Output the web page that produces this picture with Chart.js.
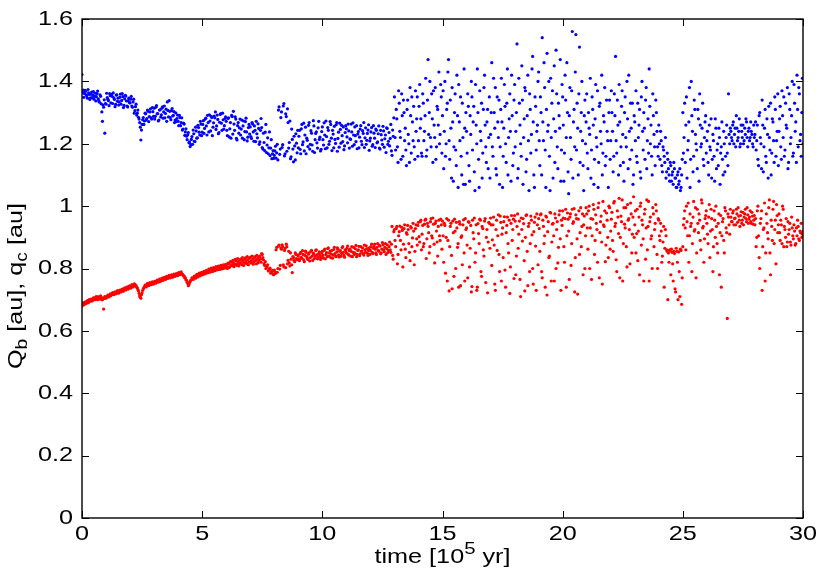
<!DOCTYPE html>
<html>
<head>
<meta charset="utf-8">
<script src="https://cdn.jsdelivr.net/npm/chart.js@4.4.1/dist/chart.umd.min.js"></script>
<style>
  html, body { margin: 0; padding: 0; background: #fff; }
  #wrap { width: 830px; height: 581px; }
</style>
</head>
<body>
<div id="wrap"><canvas id="chart" width="830" height="581"></canvas></div>
<script>
// Each row holds the outputs of one 10^5 yr interval (row r covers r .. r+1).
// "A" rows sit on the whole output steps, "B" rows on the half steps in between.

// Q_b [au]
const qbRowsA = [
  [1.422, 1.372, 1.361, 1.368, 1.353, 1.374, 1.358, 1.347, 1.366, 1.356, 1.343, 1.362, 1.351, 1.369, 1.338, 1.357, 1.328, 1.272, 1.317, 1.234],
  [1.327, 1.348, 1.338, 1.361, 1.331, 1.352, 1.363, 1.342, 1.326, 1.357, 1.346, 1.334, 1.359, 1.339, 1.351, 1.323, 1.355, 1.337, 1.318, 1.346],
  [1.331, 1.352, 1.317, 1.343, 1.306, 1.327, 1.298, 1.285, 1.268, 1.212, 1.262, 1.284, 1.273, 1.296, 1.281, 1.304, 1.287, 1.312, 1.279, 1.303],
  [1.314, 1.288, 1.322, 1.297, 1.276, 1.309, 1.293, 1.318, 1.302, 1.283, 1.311, 1.334, 1.286, 1.304, 1.277, 1.313, 1.291, 1.268, 1.299, 1.281],
  [1.272, 1.291, 1.258, 1.283, 1.247, 1.263, 1.238, 1.224, 1.229, 1.203, 1.191, 1.214, 1.198, 1.232, 1.207, 1.241, 1.219, 1.252, 1.228, 1.263],
  [1.237, 1.274, 1.249, 1.282, 1.228, 1.268, 1.293, 1.241, 1.284, 1.253, 1.289, 1.302, 1.257, 1.278, 1.236, 1.294, 1.266, 1.298, 1.247, 1.281],
  [1.272, 1.226, 1.283, 1.248, 1.218, 1.287, 1.304, 1.243, 1.279, 1.212, 1.268, 1.251, 1.228, 1.276, 1.257, 1.213, 1.271, 1.238, 1.221, 1.262],
  [1.254, 1.217, 1.263, 1.208, 1.243, 1.272, 1.219, 1.249, 1.206, 1.281, 1.188, 1.234, 1.178, 1.262, 1.196, 1.168, 1.238, 1.186, 1.152, 1.178],
  [1.163, 1.192, 1.171, 1.148, 1.318, 1.183, 1.302, 1.197, 1.329, 1.168, 1.287, 1.312, 1.186, 1.273, 1.158, 1.214, 1.142, 1.193, 1.232, 1.171],
  [1.187, 1.243, 1.168, 1.262, 1.206, 1.177, 1.253, 1.218, 1.191, 1.268, 1.198, 1.234, 1.176, 1.257, 1.213, 1.238, 1.186, 1.272, 1.221, 1.182],
  [1.254, 1.196, 1.228, 1.273, 1.187, 1.243, 1.208, 1.262, 1.178, 1.231, 1.256, 1.201, 1.268, 1.217, 1.189, 1.246, 1.259, 1.207, 1.181, 1.236],
  [1.248, 1.203, 1.241, 1.216, 1.263, 1.192, 1.228, 1.254, 1.207, 1.184, 1.239, 1.221, 1.258, 1.197, 1.233, 1.188, 1.251, 1.211, 1.244, 1.179],
  [1.218, 1.252, 1.197, 1.234, 1.188, 1.243, 1.206, 1.257, 1.183, 1.229, 1.198, 1.241, 1.216, 1.172, 1.249, 1.208, 1.193, 1.262, 1.163, 1.224],
  [1.35, 1.18, 1.28, 1.14, 1.33, 1.22, 1.36, 1.16, 1.30, 1.25, 1.13, 1.34, 1.20, 1.38, 1.17, 1.27, 1.32, 1.15, 1.24, 1.35],
  [1.21, 1.39, 1.28, 1.16, 1.33, 1.24, 1.41, 1.18, 1.47, 1.30, 1.22, 1.36, 1.14, 1.26, 1.38, 1.19, 1.31, 1.43, 1.23, 1.35],
  [1.29, 1.12, 1.40, 1.20, 1.33, 1.47, 1.15, 1.25, 1.38, 1.08, 1.30, 1.18, 1.42, 1.06, 1.27, 1.35, 1.10, 1.22, 1.44, 1.07],
  [1.24, 1.36, 1.13, 1.29, 1.40, 1.18, 1.32, 1.05, 1.26, 1.44, 1.15, 1.37, 1.21, 1.09, 1.31, 1.42, 1.19, 1.27, 1.12, 1.35],
  [1.23, 1.46, 1.16, 1.30, 1.38, 1.10, 1.27, 1.34, 1.19, 1.41, 1.06, 1.25, 1.32, 1.14, 1.44, 1.22, 1.36, 1.08, 1.29, 1.17],
  [1.39, 1.24, 1.52, 1.12, 1.33, 1.20, 1.45, 1.07, 1.28, 1.37, 1.15, 1.42, 1.05, 1.31, 1.23, 1.48, 1.10, 1.35, 1.18, 1.26],
  [1.43, 1.13, 1.30, 1.54, 1.21, 1.38, 1.06, 1.49, 1.26, 1.16, 1.41, 1.33, 1.09, 1.45, 1.24, 1.36, 1.12, 1.29, 1.47, 1.18],
  [1.35, 1.08, 1.42, 1.22, 1.30, 1.04, 1.38, 1.15, 1.56, 1.27, 1.19, 1.55, 1.33, 1.10, 1.51, 1.24, 1.40, 1.13, 1.29, 1.20],
  [1.36, 1.12, 1.25, 1.41, 1.18, 1.31, 1.07, 1.28, 1.22, 1.37, 1.14, 1.33, 1.20, 1.10, 1.29, 1.38, 1.16, 1.24, 1.06, 1.34],
  [1.21, 1.30, 1.11, 1.36, 1.48, 1.17, 1.26, 1.39, 1.13, 1.32, 1.23, 1.08, 1.35, 1.19, 1.28, 1.42, 1.15, 1.25, 1.33, 1.10],
  [1.27, 1.37, 1.14, 1.22, 1.31, 1.09, 1.40, 1.18, 1.25, 1.34, 1.12, 1.28, 1.44, 1.20, 1.16, 1.36, 1.23, 1.13, 1.30, 1.19],
  [1.26, 1.15, 1.21, 1.11, 1.18, 1.14, 1.09, 1.17, 1.12, 1.08, 1.13, 1.10, 1.07, 1.12, 1.09, 1.06, 1.11, 1.08, 1.05, 1.10],
  [1.30, 1.22, 1.14, 1.35, 1.18, 1.27, 1.06, 1.40, 1.24, 1.16, 1.31, 1.20, 1.12, 1.28, 1.36, 1.19, 1.25, 1.15, 1.22, 1.29],
  [1.21, 1.14, 1.26, 1.18, 1.09, 1.23, 1.16, 1.28, 1.12, 1.20, 1.25, 1.07, 1.19, 1.15, 1.24, 1.11, 1.22, 1.17, 1.36, 1.20],
  [1.24, 1.21, 1.27, 1.23, 1.19, 1.25, 1.22, 1.28, 1.20, 1.24, 1.26, 1.21, 1.23, 1.27, 1.19, 1.25, 1.22, 1.24, 1.20, 1.26],
  [1.23, 1.18, 1.26, 1.13, 1.30, 1.20, 1.34, 1.11, 1.25, 1.16, 1.28, 1.09, 1.22, 1.33, 1.17, 1.27, 1.14, 1.31, 1.21, 1.36],
  [1.24, 1.32, 1.15, 1.29, 1.35, 1.18, 1.26, 1.38, 1.14, 1.31, 1.22, 1.40, 1.17, 1.33, 1.27, 1.42, 1.19, 1.36, 1.23, 1.30],
  [1.20]
];
const qbRowsB = [
  [1.364, 1.349, 1.371, 1.357, 1.346, 1.363, 1.342, 1.359, 1.348, 1.367, 1.352, 1.337, 1.361, 1.344, 1.333, 1.352, 1.302, 1.324, 1.341, 1.329],
  [1.362, 1.343, 1.322, 1.354, 1.358, 1.329, 1.347, 1.319, 1.356, 1.336, 1.324, 1.349, 1.327, 1.361, 1.316, 1.344, 1.353, 1.321, 1.338, 1.332],
  [1.343, 1.321, 1.334, 1.298, 1.319, 1.292, 1.308, 1.279, 1.253, 1.244, 1.277, 1.262, 1.298, 1.276, 1.308, 1.271, 1.302, 1.283, 1.316, 1.288],
  [1.279, 1.317, 1.296, 1.273, 1.308, 1.286, 1.314, 1.282, 1.321, 1.297, 1.272, 1.307, 1.338, 1.284, 1.306, 1.289, 1.303, 1.276, 1.271, 1.292],
  [1.258, 1.284, 1.268, 1.244, 1.266, 1.227, 1.248, 1.213, 1.236, 1.206, 1.197, 1.223, 1.244, 1.208, 1.253, 1.218, 1.259, 1.237, 1.272, 1.226],
  [1.262, 1.233, 1.279, 1.257, 1.291, 1.238, 1.273, 1.288, 1.226, 1.267, 1.283, 1.246, 1.292, 1.232, 1.269, 1.297, 1.243, 1.277, 1.258, 1.286],
  [1.243, 1.281, 1.222, 1.268, 1.291, 1.231, 1.263, 1.286, 1.217, 1.258, 1.234, 1.279, 1.247, 1.218, 1.273, 1.239, 1.282, 1.209, 1.252, 1.231],
  [1.223, 1.268, 1.238, 1.257, 1.207, 1.232, 1.264, 1.198, 1.243, 1.252, 1.183, 1.204, 1.237, 1.172, 1.219, 1.187, 1.162, 1.213, 1.168, 1.153],
  [1.177, 1.154, 1.198, 1.308, 1.166, 1.284, 1.188, 1.321, 1.161, 1.296, 1.176, 1.268, 1.204, 1.152, 1.247, 1.183, 1.224, 1.148, 1.202, 1.243],
  [1.224, 1.182, 1.248, 1.197, 1.266, 1.228, 1.168, 1.211, 1.259, 1.183, 1.242, 1.196, 1.274, 1.172, 1.233, 1.203, 1.251, 1.214, 1.177, 1.239],
  [1.213, 1.267, 1.184, 1.223, 1.252, 1.198, 1.271, 1.218, 1.243, 1.187, 1.214, 1.261, 1.176, 1.237, 1.266, 1.202, 1.226, 1.254, 1.193, 1.258],
  [1.222, 1.263, 1.186, 1.214, 1.238, 1.267, 1.197, 1.226, 1.258, 1.231, 1.187, 1.247, 1.208, 1.242, 1.268, 1.219, 1.198, 1.233, 1.261, 1.209],
  [1.238, 1.192, 1.258, 1.218, 1.247, 1.203, 1.232, 1.186, 1.243, 1.212, 1.256, 1.189, 1.228, 1.251, 1.198, 1.236, 1.217, 1.177, 1.244, 1.283],
  [1.22, 1.31, 1.19, 1.37, 1.24, 1.15, 1.29, 1.34, 1.21, 1.18, 1.31, 1.23, 1.14, 1.29, 1.35, 1.21, 1.19, 1.37, 1.28, 1.16],
  [1.32, 1.25, 1.17, 1.36, 1.21, 1.29, 1.16, 1.34, 1.23, 1.40, 1.19, 1.28, 1.37, 1.22, 1.15, 1.32, 1.26, 1.20, 1.39, 1.17],
  [1.37, 1.24, 1.16, 1.31, 1.43, 1.21, 1.34, 1.09, 1.27, 1.19, 1.36, 1.13, 1.29, 1.39, 1.21, 1.16, 1.33, 1.07, 1.25, 1.30],
  [1.17, 1.32, 1.08, 1.23, 1.35, 1.27, 1.11, 1.39, 1.20, 1.30, 1.06, 1.24, 1.33, 1.17, 1.38, 1.26, 1.14, 1.31, 1.22, 1.09],
  [1.30, 1.19, 1.41, 1.25, 1.12, 1.35, 1.22, 1.07, 1.31, 1.27, 1.16, 1.39, 1.20, 1.33, 1.10, 1.28, 1.24, 1.42, 1.13, 1.34],
  [1.19, 1.30, 1.09, 1.41, 1.26, 1.16, 1.34, 1.22, 1.38, 1.11, 1.29, 1.21, 1.36, 1.17, 1.44, 1.27, 1.06, 1.32, 1.24, 1.40],
  [1.21, 1.35, 1.10, 1.27, 1.46, 1.18, 1.31, 1.24, 1.40, 1.05, 1.22, 1.37, 1.28, 1.14, 1.50, 1.19, 1.33, 1.25, 1.08, 1.39],
  [1.26, 1.17, 1.34, 1.46, 1.11, 1.29, 1.22, 1.37, 1.09, 1.31, 1.43, 1.18, 1.25, 1.36, 1.14, 1.30, 1.21, 1.05, 1.34, 1.27],
  [1.17, 1.30, 1.23, 1.09, 1.35, 1.26, 1.15, 1.39, 1.19, 1.06, 1.32, 1.24, 1.42, 1.17, 1.27, 1.13, 1.34, 1.21, 1.30, 1.15],
  [1.37, 1.24, 1.16, 1.29, 1.21, 1.34, 1.10, 1.27, 1.19, 1.37, 1.14, 1.30, 1.22, 1.40, 1.12, 1.24, 1.33, 1.18, 1.07, 1.29],
  [1.21, 1.16, 1.33, 1.26, 1.11, 1.35, 1.24, 1.30, 1.15, 1.38, 1.21, 1.17, 1.32, 1.26, 1.10, 1.29, 1.19, 1.34, 1.24, 1.16],
  [1.20, 1.24, 1.13, 1.19, 1.16, 1.22, 1.11, 1.15, 1.10, 1.14, 1.08, 1.11, 1.14, 1.09, 1.06, 1.10, 1.07, 1.12, 1.06, 1.15],
  [1.17, 1.33, 1.26, 1.09, 1.21, 1.38, 1.15, 1.29, 1.11, 1.34, 1.23, 1.18, 1.31, 1.08, 1.26, 1.20, 1.33, 1.13, 1.27, 1.17],
  [1.24, 1.10, 1.19, 1.28, 1.15, 1.21, 1.08, 1.25, 1.18, 1.13, 1.22, 1.17, 1.27, 1.10, 1.20, 1.16, 1.26, 1.13, 1.23, 1.25],
  [1.22, 1.26, 1.20, 1.25, 1.29, 1.21, 1.24, 1.19, 1.26, 1.22, 1.20, 1.25, 1.28, 1.22, 1.24, 1.21, 1.27, 1.23, 1.19, 1.22],
  [1.27, 1.21, 1.15, 1.29, 1.22, 1.12, 1.26, 1.19, 1.31, 1.14, 1.23, 1.32, 1.18, 1.10, 1.28, 1.21, 1.35, 1.16, 1.24, 1.13],
  [1.28, 1.19, 1.37, 1.22, 1.16, 1.33, 1.25, 1.12, 1.36, 1.20, 1.29, 1.16, 1.39, 1.24, 1.14, 1.31, 1.38, 1.21, 1.16, 1.41]
];

// q_c [au]
const qcRowsA = [
  [0.680, 0.690, 0.685, 0.690, 0.695, 0.690, 0.700, 0.695, 0.700, 0.700, 0.705, 0.700, 0.710, 0.700, 0.705, 0.710, 0.705, 0.700, 0.670, 0.710],
  [0.705, 0.710, 0.712, 0.715, 0.713, 0.717, 0.720, 0.718, 0.722, 0.725, 0.723, 0.727, 0.730, 0.728, 0.732, 0.735, 0.733, 0.737, 0.735, 0.739],
  [0.740, 0.743, 0.745, 0.747, 0.749, 0.745, 0.738, 0.728, 0.712, 0.705, 0.722, 0.735, 0.742, 0.745, 0.748, 0.747, 0.750, 0.752, 0.750, 0.754],
  [0.755, 0.758, 0.757, 0.760, 0.762, 0.761, 0.765, 0.763, 0.767, 0.770, 0.768, 0.772, 0.771, 0.775, 0.773, 0.777, 0.776, 0.779, 0.778, 0.781],
  [0.783, 0.785, 0.786, 0.784, 0.780, 0.776, 0.770, 0.762, 0.752, 0.748, 0.758, 0.764, 0.768, 0.772, 0.770, 0.775, 0.778, 0.776, 0.780, 0.783],
  [0.785, 0.782, 0.788, 0.786, 0.790, 0.787, 0.793, 0.790, 0.795, 0.792, 0.797, 0.794, 0.800, 0.796, 0.802, 0.798, 0.804, 0.800, 0.806, 0.803],
  [0.810, 0.800, 0.815, 0.806, 0.820, 0.809, 0.818, 0.812, 0.825, 0.810, 0.822, 0.815, 0.830, 0.812, 0.826, 0.818, 0.834, 0.815, 0.828, 0.820],
  [0.836, 0.818, 0.830, 0.822, 0.838, 0.815, 0.832, 0.825, 0.840, 0.820, 0.845, 0.828, 0.810, 0.800, 0.805, 0.792, 0.798, 0.785, 0.790, 0.782],
  [0.795, 0.784, 0.868, 0.800, 0.875, 0.810, 0.862, 0.870, 0.805, 0.865, 0.878, 0.815, 0.855, 0.808, 0.830, 0.787, 0.835, 0.822, 0.845, 0.828],
  [0.840, 0.825, 0.852, 0.832, 0.845, 0.822, 0.856, 0.838, 0.829, 0.850, 0.835, 0.858, 0.826, 0.846, 0.839, 0.860, 0.831, 0.848, 0.842, 0.835],
  [0.855, 0.833, 0.862, 0.845, 0.838, 0.866, 0.850, 0.835, 0.858, 0.843, 0.868, 0.840, 0.853, 0.862, 0.837, 0.857, 0.848, 0.870, 0.842, 0.860],
  [0.850, 0.872, 0.843, 0.862, 0.855, 0.838, 0.868, 0.850, 0.874, 0.845, 0.860, 0.841, 0.870, 0.856, 0.848, 0.875, 0.852, 0.864, 0.842, 0.866],
  [0.858, 0.878, 0.848, 0.870, 0.862, 0.845, 0.880, 0.855, 0.872, 0.850, 0.883, 0.860, 0.868, 0.845, 0.876, 0.858, 0.885, 0.852, 0.935, 0.830],
  [0.925, 0.870, 0.935, 0.845, 0.918, 0.890, 0.932, 0.805, 0.928, 0.862, 0.915, 0.938, 0.880, 0.825, 0.930, 0.898, 0.920, 0.855, 0.940, 0.875],
  [0.948, 0.885, 0.955, 0.910, 0.870, 0.942, 0.958, 0.895, 0.935, 0.850, 0.950, 0.905, 0.962, 0.878, 0.945, 0.920, 0.840, 0.955, 0.890, 0.940],
  [0.952, 0.820, 0.938, 0.900, 0.760, 0.955, 0.870, 0.945, 0.735, 0.915, 0.958, 0.800, 0.930, 0.880, 0.950, 0.745, 0.905, 0.940, 0.850, 0.960],
  [0.930, 0.770, 0.948, 0.865, 0.725, 0.955, 0.895, 0.820, 0.940, 0.740, 0.912, 0.958, 0.790, 0.935, 0.860, 0.952, 0.755, 0.925, 0.885, 0.945],
  [0.962, 0.810, 0.940, 0.875, 0.730, 0.955, 0.905, 0.845, 0.968, 0.760, 0.930, 0.950, 0.795, 0.915, 0.965, 0.850, 0.720, 0.945, 0.890, 0.958],
  [0.970, 0.780, 0.935, 0.865, 0.952, 0.710, 0.925, 0.960, 0.825, 0.900, 0.972, 0.745, 0.945, 0.880, 0.955, 0.800, 0.918, 0.965, 0.730, 0.940],
  [0.960, 0.855, 0.975, 0.770, 0.935, 0.905, 0.968, 0.715, 0.950, 0.840, 0.978, 0.885, 0.945, 0.760, 0.962, 0.925, 0.818, 0.972, 0.895, 0.955],
  [0.985, 0.870, 0.960, 0.740, 0.978, 0.920, 0.965, 0.810, 0.990, 0.950, 0.725, 0.972, 0.895, 0.958, 0.845, 0.995, 0.935, 0.780, 0.968, 0.905],
  [0.975, 0.862, 1.000, 0.930, 0.765, 0.958, 0.990, 0.890, 0.945, 0.820, 1.010, 0.915, 0.968, 0.750, 0.940, 0.985, 0.875, 0.955, 0.835, 0.995],
  [0.920, 0.980, 0.855, 1.015, 0.945, 0.790, 0.965, 1.025, 0.900, 0.950, 0.760, 0.995, 0.930, 0.870, 1.005, 0.960, 0.815, 0.975, 0.910, 1.030],
  [0.940, 0.850, 0.990, 0.920, 0.780, 1.010, 0.955, 0.895, 0.975, 0.830, 1.020, 0.935, 0.760, 0.965, 0.905, 0.995, 0.870, 0.945, 0.985, 0.800],
  [0.955, 0.890, 0.920, 0.840, 0.935, 0.865, 0.905, 0.855, 0.850, 0.860, 0.780, 0.852, 0.760, 0.848, 0.725, 0.855, 0.700, 0.790, 0.862, 0.685],
  [0.870, 0.960, 0.930, 1.000, 0.905, 0.820, 0.975, 0.945, 0.880, 1.015, 0.925, 0.770, 0.990, 0.915, 0.955, 0.860, 1.010, 0.935, 0.895, 0.970],
  [0.945, 0.880, 1.005, 0.920, 0.960, 0.790, 0.985, 0.900, 0.935, 0.850, 0.975, 0.915, 0.740, 0.950, 0.890, 0.995, 0.930, 0.640, 0.965, 0.910],
  [0.965, 0.950, 0.985, 0.960, 0.940, 0.975, 0.995, 0.955, 0.970, 0.945, 0.980, 0.965, 0.990, 0.950, 0.972, 0.958, 0.985, 0.945, 0.968, 0.955],
  [0.940, 0.870, 0.985, 0.905, 0.800, 0.960, 0.730, 0.925, 1.010, 0.850, 0.945, 0.895, 1.020, 0.780, 0.935, 0.990, 0.880, 0.955, 1.005, 0.915],
  [0.975, 0.890, 0.940, 1.000, 0.870, 0.925, 0.960, 0.885, 0.910, 0.945, 0.875, 0.930, 0.895, 0.920, 0.880, 0.905, 0.935, 0.890, 0.915, 0.900],
  [0.920]
];
const qcRowsB = [
  [0.685, 0.683, 0.692, 0.688, 0.697, 0.692, 0.698, 0.702, 0.696, 0.706, 0.700, 0.708, 0.703, 0.709, 0.702, 0.712, 0.700, 0.706, 0.704, 0.708],
  [0.708, 0.715, 0.709, 0.719, 0.716, 0.723, 0.716, 0.725, 0.719, 0.729, 0.721, 0.731, 0.725, 0.734, 0.727, 0.738, 0.731, 0.741, 0.734, 0.744],
  [0.737, 0.748, 0.741, 0.751, 0.744, 0.740, 0.732, 0.720, 0.708, 0.716, 0.730, 0.738, 0.747, 0.741, 0.752, 0.745, 0.755, 0.748, 0.757, 0.750],
  [0.759, 0.753, 0.763, 0.756, 0.766, 0.759, 0.769, 0.762, 0.772, 0.765, 0.775, 0.768, 0.778, 0.770, 0.780, 0.772, 0.782, 0.775, 0.784, 0.777],
  [0.787, 0.780, 0.789, 0.781, 0.776, 0.770, 0.764, 0.756, 0.745, 0.754, 0.762, 0.770, 0.765, 0.776, 0.769, 0.781, 0.773, 0.785, 0.777, 0.788],
  [0.780, 0.791, 0.783, 0.794, 0.786, 0.798, 0.788, 0.801, 0.790, 0.803, 0.793, 0.806, 0.796, 0.808, 0.797, 0.810, 0.799, 0.812, 0.801, 0.813],
  [0.805, 0.817, 0.803, 0.822, 0.812, 0.826, 0.806, 0.829, 0.815, 0.832, 0.808, 0.827, 0.819, 0.835, 0.810, 0.830, 0.822, 0.838, 0.812, 0.833],
  [0.824, 0.840, 0.814, 0.835, 0.826, 0.842, 0.818, 0.837, 0.830, 0.848, 0.835, 0.815, 0.822, 0.808, 0.812, 0.796, 0.801, 0.789, 0.794, 0.780],
  [0.790, 0.860, 0.788, 0.872, 0.798, 0.866, 0.876, 0.812, 0.858, 0.803, 0.870, 0.826, 0.818, 0.850, 0.812, 0.838, 0.826, 0.850, 0.832, 0.843],
  [0.830, 0.848, 0.836, 0.857, 0.828, 0.842, 0.852, 0.833, 0.846, 0.824, 0.855, 0.840, 0.849, 0.832, 0.858, 0.844, 0.836, 0.853, 0.829, 0.850],
  [0.842, 0.858, 0.831, 0.851, 0.864, 0.840, 0.856, 0.846, 0.833, 0.861, 0.848, 0.838, 0.866, 0.844, 0.855, 0.839, 0.867, 0.852, 0.836, 0.858],
  [0.865, 0.846, 0.857, 0.840, 0.870, 0.852, 0.845, 0.863, 0.838, 0.858, 0.871, 0.847, 0.855, 0.866, 0.843, 0.860, 0.873, 0.849, 0.858, 0.845],
  [0.870, 0.852, 0.865, 0.878, 0.850, 0.868, 0.858, 0.874, 0.847, 0.862, 0.876, 0.854, 0.880, 0.864, 0.851, 0.870, 0.860, 0.878, 0.842, 0.918],
  [0.890, 0.928, 0.815, 0.905, 0.936, 0.860, 0.922, 0.878, 0.940, 0.835, 0.910, 0.925, 0.852, 0.934, 0.870, 0.945, 0.812, 0.928, 0.895, 0.938],
  [0.902, 0.950, 0.860, 0.938, 0.880, 0.955, 0.832, 0.945, 0.915, 0.870, 0.960, 0.898, 0.942, 0.818, 0.952, 0.885, 0.935, 0.905, 0.958, 0.862],
  [0.905, 0.945, 0.785, 0.960, 0.890, 0.728, 0.935, 0.842, 0.952, 0.775, 0.920, 0.948, 0.868, 0.740, 0.942, 0.900, 0.812, 0.956, 0.760, 0.925],
  [0.875, 0.950, 0.805, 0.938, 0.742, 0.915, 0.962, 0.850, 0.730, 0.944, 0.880, 0.955, 0.775, 0.928, 0.840, 0.960, 0.900, 0.722, 0.948, 0.865],
  [0.940, 0.892, 0.965, 0.750, 0.925, 0.858, 0.972, 0.790, 0.948, 0.910, 0.835, 0.966, 0.740, 0.938, 0.880, 0.955, 0.805, 0.970, 0.925, 0.768],
  [0.952, 0.840, 0.975, 0.910, 0.765, 0.962, 0.888, 0.944, 0.728, 0.970, 0.855, 0.935, 0.790, 0.968, 0.908, 0.750, 0.948, 0.872, 0.975, 0.812],
  [0.928, 0.972, 0.790, 0.955, 0.880, 0.740, 0.965, 0.918, 0.835, 0.980, 0.760, 0.942, 0.905, 0.975, 0.800, 0.950, 0.868, 0.985, 0.730, 0.938],
  [0.962, 0.820, 0.990, 0.905, 0.958, 0.765, 0.975, 0.880, 0.945, 0.992, 0.835, 0.960, 0.718, 0.985, 0.915, 0.870, 0.975, 0.940, 0.800, 0.995],
  [0.930, 0.985, 0.800, 0.960, 0.905, 1.005, 0.845, 0.972, 0.925, 0.995, 0.770, 0.950, 0.885, 1.015, 0.935, 0.822, 0.978, 0.900, 1.000, 0.862],
  [0.958, 0.890, 1.010, 0.935, 0.828, 0.985, 0.912, 0.770, 0.968, 1.020, 0.880, 0.942, 0.995, 0.805, 0.955, 0.925, 1.010, 0.850, 0.965, 0.900],
  [0.985, 0.912, 0.825, 0.965, 1.000, 0.875, 0.940, 0.760, 0.990, 0.930, 0.860, 1.015, 0.950, 0.895, 0.800, 0.975, 0.925, 1.005, 0.845, 0.960],
  [0.905, 0.945, 0.820, 0.885, 0.740, 0.925, 0.860, 0.700, 0.820, 0.858, 0.862, 0.815, 0.855, 0.735, 0.865, 0.820, 0.853, 0.710, 0.858, 0.770],
  [0.940, 0.985, 0.860, 0.950, 1.010, 0.905, 0.935, 0.790, 0.965, 0.920, 0.995, 0.850, 0.945, 0.975, 0.890, 1.020, 0.930, 0.820, 0.960, 0.985],
  [0.910, 0.965, 0.835, 0.990, 0.925, 0.870, 0.955, 1.000, 0.880, 0.945, 0.780, 0.970, 0.905, 0.960, 0.850, 0.985, 0.915, 0.975, 0.940, 0.990],
  [0.950, 0.978, 0.940, 0.962, 0.990, 0.948, 0.968, 0.935, 0.982, 0.955, 0.940, 0.975, 0.960, 0.995, 0.945, 0.965, 0.950, 0.980, 0.942, 0.970],
  [0.960, 0.900, 1.000, 0.835, 0.945, 0.985, 0.870, 0.930, 0.760, 0.975, 0.915, 0.995, 0.850, 0.955, 0.890, 1.015, 0.925, 0.815, 0.970, 0.940],
  [0.915, 0.955, 0.880, 0.990, 0.935, 0.900, 0.870, 0.950, 0.925, 0.885, 0.965, 0.905, 0.940, 0.875, 0.930, 0.955, 0.895, 0.920, 0.945, 0.910]
];

const xTicks = [0, 5, 10, 15, 20, 25, 30];
const yTicks = [0, 0.2, 0.4, 0.6, 0.8, 1, 1.2, 1.4, 1.6];
const xTickLabels = ['0', '5', '10', '15', '20', '25', '30'];
const yTickLabels = ['0', '0.2', '0.4', '0.6', '0.8', '1', '1.2', '1.4', '1.6'];

const FONT = "'Liberation Sans', Arial, Helvetica, sans-serif";
const STRETCH = 1.2;   // the original lettering is wider than Liberation Sans

// row r, item j of n -> time r + (j + shift) / n
function toPoints(rows, shift) {
  const pts = [];
  rows.forEach((row, r) => {
    row.forEach((v, j) => pts.push({ x: r + (j + shift) / row.length, y: v }));
  });
  return pts;
}

// gnuplot style frame: box border with inward ticks on all four sides, plus tick labels
const framePlugin = {
  id: 'frame',
  afterDatasetsDraw(chart) {
    const { ctx, chartArea: a, scales } = chart;
    const tl = 7;
    ctx.save();
    ctx.strokeStyle = '#000';
    ctx.lineWidth = 1.4;
    ctx.strokeRect(a.left, a.top, a.right - a.left, a.bottom - a.top);
    ctx.lineWidth = 1;
    ctx.beginPath();
    xTicks.forEach(v => {
      const x = Math.round(scales.x.getPixelForValue(v)) + 0.5;
      ctx.moveTo(x, a.bottom); ctx.lineTo(x, a.bottom - tl);
      ctx.moveTo(x, a.top); ctx.lineTo(x, a.top + tl);
    });
    yTicks.forEach(v => {
      const y = Math.round(scales.y.getPixelForValue(v)) + 0.5;
      ctx.moveTo(a.left, y); ctx.lineTo(a.left + tl, y);
      ctx.moveTo(a.right, y); ctx.lineTo(a.right - tl, y);
    });
    ctx.stroke();

    ctx.fillStyle = '#000';
    ctx.font = '21px ' + FONT;
    ctx.textBaseline = 'middle';
    xTicks.forEach((v, i) => {
      ctx.save();
      ctx.translate(scales.x.getPixelForValue(v), a.bottom + 16);
      ctx.scale(STRETCH, 1);
      ctx.textAlign = 'center';
      ctx.fillText(xTickLabels[i], 0, 0);
      ctx.restore();
    });
    yTicks.forEach((v, i) => {
      ctx.save();
      ctx.translate(a.left - 9, scales.y.getPixelForValue(v));
      ctx.scale(STRETCH, 1);
      ctx.textAlign = 'right';
      ctx.fillText(yTickLabels[i], 0, 0);
      ctx.restore();
    });
    ctx.restore();
  }
};

// axis titles with sub/superscripts, centred on x
function drawParts(ctx, parts, x, y) {
  let w = 0;
  parts.forEach(p => { ctx.font = p.size + 'px ' + FONT; p.w = ctx.measureText(p.t).width; w += p.w; });
  let cx = x - w / 2;
  parts.forEach(p => {
    ctx.font = p.size + 'px ' + FONT;
    ctx.fillText(p.t, cx, y + (p.dy || 0));
    cx += p.w;
  });
}

const titlePlugin = {
  id: 'titles',
  afterDraw(chart) {
    const { ctx, chartArea: a } = chart;
    ctx.save();
    ctx.fillStyle = '#000';
    ctx.textBaseline = 'alphabetic';
    ctx.save();
    ctx.translate((a.left + a.right) / 2, 563);
    ctx.scale(STRETCH, 1);
    drawParts(ctx, [
      { t: 'time [10', size: 21 },
      { t: '5', size: 17, dy: -9 },
      { t: ' yr]', size: 21 }
    ], 0, 0);
    ctx.restore();
    ctx.translate(22, 286);
    ctx.rotate(-Math.PI / 2);
    ctx.scale(STRETCH, 1);
    drawParts(ctx, [
      { t: 'Q', size: 21 },
      { t: 'b', size: 16, dy: 5 },
      { t: ' [au], q', size: 21 },
      { t: 'c', size: 16, dy: 5 },
      { t: ' [au]', size: 21 }
    ], 0, 0);
    ctx.restore();
  }
};

new Chart(document.getElementById('chart'), {
  type: 'scatter',
  data: {
    datasets: [
      {
        label: 'Q_b',
        data: toPoints(qbRowsA, 0).concat(toPoints(qbRowsB, 0.5)),
        backgroundColor: '#0000ff',
        borderWidth: 0,
        pointRadius: 1.6
      },
      {
        label: 'q_c',
        data: toPoints(qcRowsA, 0).concat(toPoints(qcRowsB, 0.5)),
        backgroundColor: '#ff0000',
        borderWidth: 0,
        pointRadius: 1.6
      }
    ]
  },
  options: {
    responsive: false,
    animation: false,
    layout: { padding: { top: 19, right: 27, left: 0, bottom: 0 } },
    plugins: {
      legend: { display: false },
      tooltip: { enabled: false }
    },
    scales: {
      x: {
        type: 'linear',
        min: 0,
        max: 30,
        afterFit: s => { s.height = 63; },
        grid: { display: false, drawTicks: false },
        border: { display: false },
        ticks: { display: false }
      },
      y: {
        min: 0,
        max: 1.6,
        afterFit: s => { s.width = 82; },
        grid: { display: false, drawTicks: false },
        border: { display: false },
        ticks: { display: false }
      }
    }
  },
  plugins: [framePlugin, titlePlugin]
});
</script>
</body>
</html>
